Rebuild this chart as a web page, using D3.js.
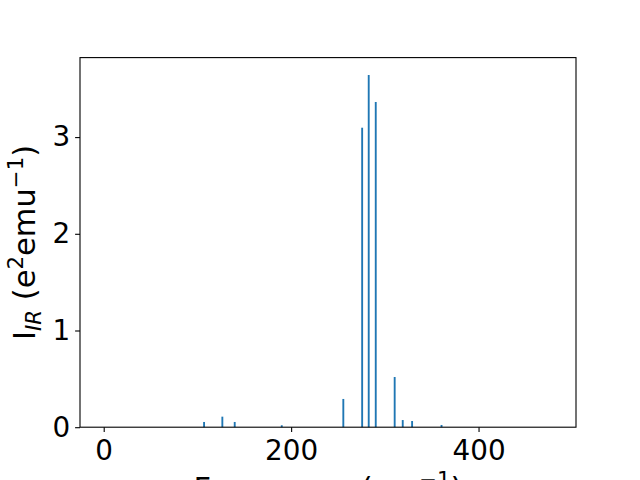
<!DOCTYPE html>
<html>
<head>
<meta charset="utf-8">
<script src="https://cdn.jsdelivr.net/npm/d3@7"></script>
<style>
  body { margin: 0; background: #fff; }
  svg { display: block; font-family: "DejaVu Sans", sans-serif; }
</style>
</head>
<body>
<svg width="640" height="480"></svg>
<script>
// IR spectrum values
let freqs = [107.1, 126.6, 139.8, 190.0, 255.7, 275.8, 282.8, 290.3, 310.5, 319.1, 329.1, 360.5];
let intens = [0.054, 0.109, 0.054, 0.02, 0.292, 3.097, 3.642, 3.363, 0.519, 0.074, 0.064, 0.023];
let xTicks = [0, 200, 400];
let yTicks = [0, 1, 2, 3];
let barW = 2;

let svg = d3.select("svg"),
	axL = 80, axR = 576, axT = 57.6, axB = 427.2,
	fs = 27.8, lfs = 30.5;

let x = d3.scaleLinear().domain([-25.3, 504]).range([axL, axR]);
let y = d3.scaleLinear().domain([0, 3.822]).range([axB, axT]);

let gbars = svg.append("g").attr('class','bars');
gbars.selectAll("rect")
		.data(freqs)
	.enter().append("rect")
		.attr("fill", '#1f77b4')
		.attr("x", (d)=> x(d - barW/2))
		.attr("width", (d)=> x(d + barW/2) - x(d - barW/2))
		.attr("y", (d,i)=> y(intens[i]))
		.attr("height", (d,i)=> y(0) - y(intens[i]));

let gx = svg.append("g").attr("transform", `translate(0,${axB})`)
	.call(d3.axisBottom(x).tickValues(xTicks).tickSize(4.9).tickPadding(4.9).tickFormat(d3.format("d")));
let gy = svg.append("g").attr("transform", `translate(${axL},0)`)
	.call(d3.axisLeft(y).tickValues(yTicks).tickSize(4.9).tickPadding(4.9).tickFormat(d3.format("d")));

[gx, gy].forEach(g=>{
	g.select(".domain").remove();
	g.selectAll("line").attr("stroke", "#000").attr("stroke-width", 1.1);
	g.selectAll("text").attr("fill", "#000").attr("font-size", fs).attr("font-family", "DejaVu Sans");
});
gx.selectAll("text").attr("dy", null).attr("y", 33);

// frame
svg.append("rect")
	.attr("x", axL).attr("y", axT)
	.attr("width", axR - axL).attr("height", axB - axT)
	.attr("fill", "none").attr("stroke", "#000").attr("stroke-width", 1.1);

// x label (mostly cut off by the figure edge, as in the original)
let xl = svg.append("text")
	.attr("x", (axL + axR)/2).attr("y", 499)
	.attr("text-anchor", "middle").attr("font-size", lfs);
xl.append("tspan").text("Frequency (cm");
xl.append("tspan").attr("font-size", lfs*0.7).attr("dy", -12).text("\u22121");
xl.append("tspan").attr("dy", 12).text(")");

// y label
let yl = svg.append("text")
	.attr("transform", `translate(35,${(axT + axB)/2}) rotate(-90)`)
	.attr("text-anchor", "middle").attr("font-size", lfs);
yl.append("tspan").text("I");
yl.append("tspan").attr("font-size", lfs*0.7).attr("font-style", "italic").attr("dy", 5.5).text("IR");
yl.append("tspan").attr("dy", -5.5).text(" (e");
yl.append("tspan").attr("font-size", lfs*0.7).attr("dy", -12).text("2");
yl.append("tspan").attr("dy", 12).text("emu");
yl.append("tspan").attr("font-size", lfs*0.7).attr("dy", -12).text("\u22121");
yl.append("tspan").attr("dy", 12).text(")");
</script>
</body>
</html>
